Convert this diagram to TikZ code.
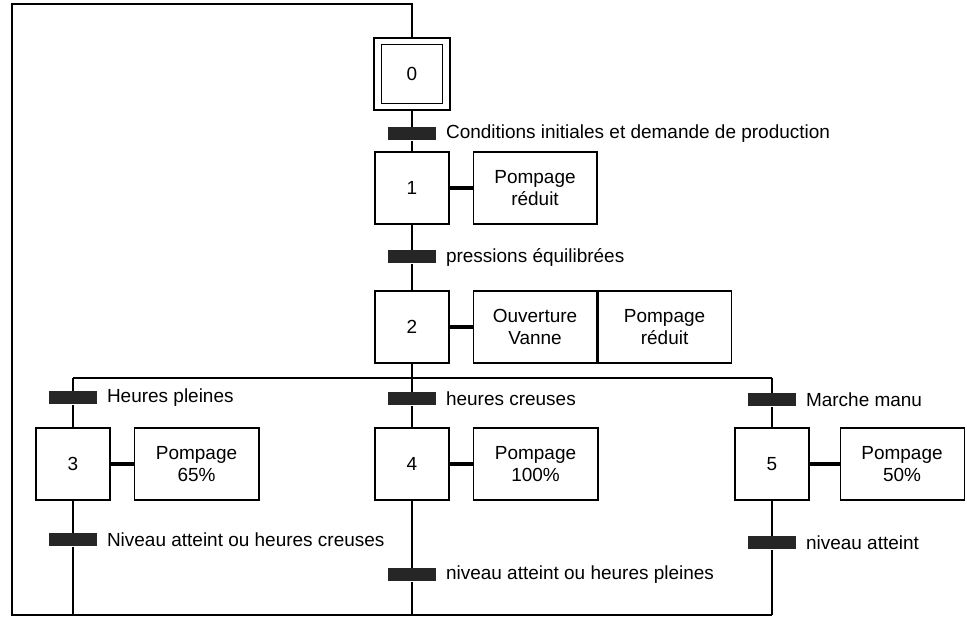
\documentclass[tikz,border=0pt]{standalone}
\usepackage{fontspec}
\setmainfont{Liberation Sans}
\usetikzlibrary{positioning}

\begin{document}
\begin{tikzpicture}[x=0.02cm, y=-0.02cm, line width=0.6pt,
  font=\fontsize{10.8}{13}\selectfont,
  etape/.style={draw, minimum width=1.48cm, minimum height=1.44cm, inner sep=0pt},
  action/.style={draw, minimum height=1.44cm, align=center, inner sep=0pt},
  recept/.style={fill=black!85, minimum width=0.96cm, minimum height=0.26cm, inner sep=0pt},
  cond/.style={inner sep=0pt},
  lien/.style={line width=2.2pt}]
  \useasboundingbox (0,0) rectangle (967,617);

  % etape initiale
  \node[draw, minimum width=1.52cm, minimum height=1.44cm] (e0) at (412,74) {};
  \node[draw, minimum width=1.22cm, minimum height=1.18cm] (e0i) at (e0) {0};

  \node[recept] (t01) at (412,134) {};
  \node[cond, right=0.18cm of t01] (c01) {Conditions initiales et demande de production};

  \node[etape] (e1) at (412,188) {1};
  \node[action, minimum width=2.48cm, right=0.46cm of e1] (a1) {Pompage\\réduit};
  \draw[lien] (e1.east) -- (a1.west);

  \node[recept] (t12) at (412,257) {};
  \node[cond, right=0.18cm of t12] (c12) {pressions équilibrées};

  \node[etape] (e2) at (412,327) {2};
  \node[action, minimum width=2.48cm, right=0.46cm of e2] (a2a) {Ouverture\\Vanne};
  \node[action, minimum width=2.66cm, right=0pt of a2a] (a2b) {Pompage\\réduit};
  \draw[lien] (e2.east) -- (a2a.west);

  % divergence en OU
  \coordinate (d3) at (73,378);
  \coordinate (d5) at (772,378);

  \node[recept] (t23) at (73,398) {};
  \node[cond, right=0.18cm of t23] (c23) {Heures pleines};
  \node[recept] (t24) at (412,399) {};
  \node[cond, right=0.18cm of t24] (c24) {heures creuses};
  \node[recept] (t25) at (772,400) {};
  \node[cond, right=0.18cm of t25] (c25) {Marche manu};

  \node[etape] (e3) at (73,464) {3};
  \node[action, minimum width=2.5cm, right=0.46cm of e3] (a3) {Pompage\\65\%};
  \draw[lien] (e3.east) -- (a3.west);
  \node[etape] (e4) at (412,464) {4};
  \node[action, minimum width=2.5cm, right=0.46cm of e4] (a4) {Pompage\\100\%};
  \draw[lien] (e4.east) -- (a4.west);
  \node[etape] (e5) at (772,464) {5};
  \node[action, minimum width=2.48cm, right=0.6cm of e5] (a5) {Pompage\\50\%};
  \draw[lien] (e5.east) -- (a5.west);

  \node[recept] (t30) at (73,540) {};
  \node[cond, right=0.18cm of t30] (c30) {Niveau atteint ou heures creuses};
  \node[recept] (t40) at (412,575) {};
  \node[cond, right=0.18cm of t40] (c40) {niveau atteint ou heures pleines};
  \node[recept] (t50) at (772,543) {};
  \node[cond, right=0.18cm of t50] (c50) {niveau atteint};

  % retour a l'etape initiale
  \coordinate (f3) at (73,615);
  \coordinate (f4) at (412,615);
  \coordinate (f5) at (772,615);
  \coordinate (r1) at (12,615);
  \coordinate (r2) at (12,4);
  \coordinate (r3) at (412,4);

  \draw (e0) -- (t01) -- (e1) -- (t12) -- (e2) -- (t24) -- (e4) -- (t40) -- (f4);
  \draw (d3) -- (d5);
  \draw (d3) -- (t23) -- (e3) -- (t30) -- (f3);
  \draw (d5) -- (t25) -- (e5) -- (t50) -- (f5);
  \draw (f5) -- (r1) -- (r2) -- (r3) -- (e0);
\end{tikzpicture}
\end{document}
